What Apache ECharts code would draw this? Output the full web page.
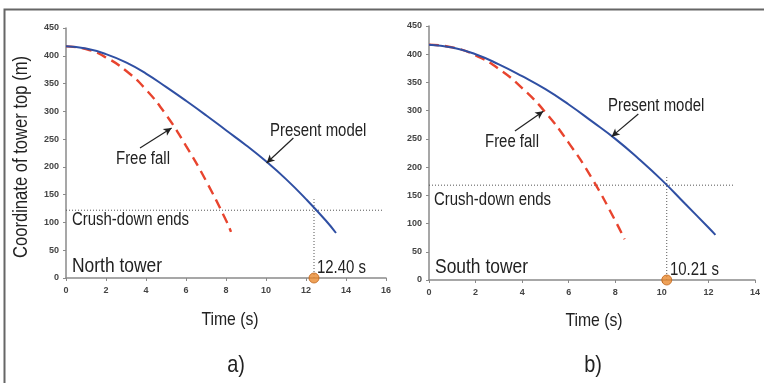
<!DOCTYPE html>
<html>
<head>
<meta charset="utf-8">
<script src="https://cdn.jsdelivr.net/npm/echarts@6.0.0/dist/echarts.min.js"></script>
<style>
  html, body { margin: 0; padding: 0; background: #fff; }
  #chart { width: 764px; height: 383px; }
</style>
</head>
<body>
<div id="chart"></div>
<script>
// values: time (s) and tower-top coordinate (m)
const northModelT = [0, 1, 2, 3, 4, 5, 6, 7, 8, 9, 10, 11, 12, 13, 13.5];
const northModelY = [417, 413, 403, 388, 368, 344, 319, 293, 266, 239, 210, 178, 142, 103, 81];
const northFreeT = [0, 1, 2, 3, 4, 5, 6, 7, 8, 8.25];
const northFreeY = [417, 412, 397, 373, 339, 294, 238, 175, 104, 83];

const southModelT = [0, 1, 2, 3, 4, 5, 6, 7, 8, 9, 10, 11, 12, 12.3];
const southModelY = [417, 412, 400, 382, 361, 338, 311, 281, 250, 215, 177, 135, 93, 80];
const southFreeT = [0, 1, 2, 3, 4, 5, 6, 7, 8, 8.4];
const southFreeY = [417, 412, 398, 374, 340, 297, 243, 180, 105, 72];

const crushTime = [12.40, 10.21];
const crushHeight = [122, 168];
const guideTop = [142, 184];     // where the vertical dotted guide stops
const guideEnd = [15.8, 13.1];   // where the horizontal dotted guide stops
const xMax = [16, 14];
const towerNames = ["North tower", "South tower"];
const panelTags = ["a)", "b)"];

// arrow annotations in data coords: [tail, head]
const arrows = [
  [[[3.7, 234], [5.28, 270]], [[11.37, 252], [10.03, 207]]],
  [[[3.69, 264], [4.91, 299]], [[8.99, 294], [7.84, 254]]],
];

// no narrow font installed, so squeeze the regular one horizontally
const FONT = "'Liberation Sans', Arial, sans-serif";
const SQUEEZE = 0.83;
const BLUE = "#2f4fa3";
const RED = "#e8442e";
const AXIS = "#8a8a8a";

function pairs(ts, ys) {
  return ts.map((t, i) => [t, ys[i]]);
}

function axisPair(i) {
  const label = { color: "#444", fontSize: 9, fontWeight: "bold", fontFamily: "Arial, sans-serif" };
  return {
    x: {
      type: "value", gridIndex: i, min: 0, max: xMax[i], interval: 2,
      axisLine: { onZero: false, lineStyle: { color: AXIS, width: 1.5 } },
      axisTick: { show: true, length: 3, lineStyle: { color: AXIS } },
      axisLabel: { ...label, margin: 8 },
      splitLine: { show: false },
    },
    y: {
      type: "value", gridIndex: i, min: 0, max: 450, interval: 50,
      axisLine: { show: true, lineStyle: { color: AXIS, width: 1.5 } },
      axisTick: { show: true, length: 3, lineStyle: { color: AXIS } },
      axisLabel: { ...label, margin: 7 },
      splitLine: { show: false },
    },
  };
}

function panelSeries(i, model, free) {
  const dotted = { color: "#555", width: 1, type: [1, 2] };
  return [
    {
      type: "line", xAxisIndex: i, yAxisIndex: i, data: [[0, crushHeight[i]], [guideEnd[i], crushHeight[i]]],
      symbol: "none", lineStyle: dotted, silent: true, z: 1,
    },
    {
      type: "line", xAxisIndex: i, yAxisIndex: i, data: [[crushTime[i], 0], [crushTime[i], guideTop[i]]],
      symbol: "none", lineStyle: dotted, silent: true, z: 1,
    },
    {
      type: "line", xAxisIndex: i, yAxisIndex: i, data: free, smooth: 0.5,
      symbol: "none", lineStyle: { color: RED, width: 2.4, type: [10, 6] }, z: 3,
    },
    {
      type: "line", xAxisIndex: i, yAxisIndex: i, data: model, smooth: 0.5,
      symbol: "none", lineStyle: { color: BLUE, width: 2 }, z: 4,
      markLine: {
        silent: true, animation: false,
        symbol: ["none", "arrow"], symbolSize: [6, 8],
        lineStyle: { color: "#222", width: 1.2, type: "solid" },
        label: { show: false },
        data: arrows[i].map(([a, b]) => [{ coord: a }, { coord: b }]),
      },
    },
    {
      type: "scatter", xAxisIndex: i, yAxisIndex: i, data: [[crushTime[i], 0]], clip: false,
      symbolSize: 10, itemStyle: { color: "#ea8a2e", borderColor: "#c0651a", borderWidth: 1 }, z: 6,
    },
  ];
}

function txt(x, y, text, size, align, rotation) {
  return {
    type: "text", x, y, silent: true, scaleX: SQUEEZE, rotation: rotation || 0,
    style: { text, fill: "#222", font: size + "px " + FONT, textAlign: align || "left", textVerticalAlign: "middle" },
  };
}

const chart = echarts.init(document.getElementById("chart"), null, { renderer: "canvas" });
const a0 = axisPair(0);
const a1 = axisPair(1);

chart.setOption({
  animation: false,
  backgroundColor: "#fff",
  grid: [
    { left: 66, top: 28, width: 320, height: 250 },
    { left: 429, top: 26, width: 326, height: 254 },
  ],
  xAxis: [a0.x, a1.x],
  yAxis: [a0.y, a1.y],
  series: [
    ...panelSeries(0, pairs(northModelT, northModelY), pairs(northFreeT, northFreeY)),
    ...panelSeries(1, pairs(southModelT, southModelY), pairs(southFreeT, southFreeY)),
  ],
  graphic: [
    { type: "polyline", silent: true, shape: { points: [[4.5, 383], [4.5, 9.5], [764, 9.5]] }, style: { stroke: "#666", lineWidth: 2, fill: null } },
    txt(21, 157, "Coordinate of tower top (m)", 20, "center", Math.PI / 2),
    // north panel
    txt(270, 131, "Present model", 18),
    txt(116, 159, "Free fall", 18),
    txt(72, 220, "Crush-down ends", 18),
    txt(72, 266, towerNames[0], 21),
    txt(317, 268, crushTime[0].toFixed(2) + " s", 18),
    txt(230, 320, "Time (s)", 19, "center"),
    txt(236, 365, panelTags[0], 24, "center"),
    // south panel
    txt(608, 106, "Present model", 18),
    txt(485, 142, "Free fall", 18),
    txt(434, 200, "Crush-down ends", 18),
    txt(435, 267, towerNames[1], 21),
    txt(670, 270, crushTime[1].toFixed(2) + " s", 18),
    txt(594, 321, "Time (s)", 19, "center"),
    txt(593, 365, panelTags[1], 24, "center"),
  ],
});
</script>
</body>
</html>
